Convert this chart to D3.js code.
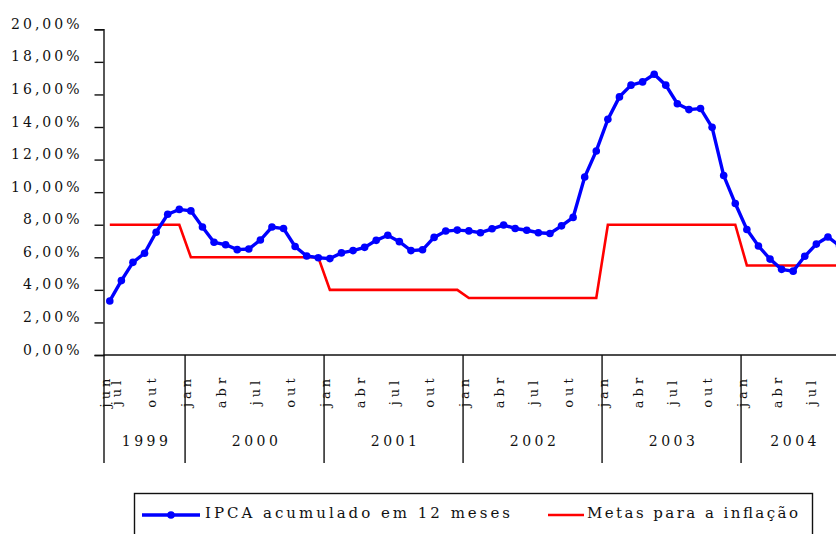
<!DOCTYPE html>
<html>
<head>
<meta charset="utf-8">
<script src="https://cdn.jsdelivr.net/npm/d3@7"></script>
<style>
  body { margin: 0; background: #fff; }
  svg { display: block; }
  text { font-family: 'DejaVu Serif', serif; fill: #111; }
</style>
</head>
<body>
<script>
// IPCA acumulado em 12 meses, jun/1999 a set/2004 (%)
var ipca = [
  3.32, 4.57, 5.69, 6.25, 7.54, 8.64, 8.94,
  8.85, 7.86, 6.92, 6.77, 6.47, 6.51, 7.06, 7.86, 7.77, 6.66, 6.08, 5.97,
  5.92, 6.27, 6.41, 6.61, 7.04, 7.35, 6.96, 6.41, 6.46, 7.22, 7.61, 7.67,
  7.62, 7.51, 7.75, 7.98, 7.77, 7.66, 7.51, 7.46, 7.93, 8.45, 10.93, 12.53,
  14.47, 15.85, 16.57, 16.77, 17.24, 16.57, 15.43, 15.07, 15.14, 13.98, 11.02, 9.30,
  7.71, 6.69, 5.89, 5.26, 5.15, 6.06, 6.81, 7.25, 6.71
];

// metas para a inflação (%)
var metas = [
  8, 8, 8, 8, 8, 8, 8,
  6, 6, 6, 6, 6, 6, 6, 6, 6, 6, 6, 6,
  4, 4, 4, 4, 4, 4, 4, 4, 4, 4, 4, 4,
  3.5, 3.5, 3.5, 3.5, 3.5, 3.5, 3.5, 3.5, 3.5, 3.5, 3.5, 3.5,
  8, 8, 8, 8, 8, 8, 8, 8, 8, 8, 8, 8,
  5.5, 5.5, 5.5, 5.5, 5.5, 5.5, 5.5, 5.5, 5.5
];

var monthNames = ['jan', 'fev', 'mar', 'abr', 'mai', 'jun', 'jul', 'ago', 'set', 'out', 'nov', 'dez'];
var shownMonths = ['jan', 'abr', 'jul', 'out'];
var firstYear = 1999;
var firstMonth = 5; // jun
var yTicks = [0, 2, 4, 6, 8, 10, 12, 14, 16, 18, 20];
var seriesNames = ['IPCA acumulado em 12 meses', 'Metas para a inflação'];

var categories = ipca.map(function(v, i) {
  var n = firstMonth + i;
  return { key: i, month: monthNames[n % 12], year: firstYear + Math.floor(n / 12) };
});

var W = 836, H = 534;
var plotLeft = 104, step = 11.583;
var plotTop = 29.3, plotBottom = 355;

var svg = d3.select('body')
  .append('svg')
  .attr('width', W)
  .attr('height', H);

var x = d3.scaleBand()
  .domain(categories.map(function(d) { return d.key; }))
  .range([plotLeft, plotLeft + categories.length * step]);

var y = d3.scaleLinear()
  .domain([0, 20])
  .range([plotBottom, plotTop]);

var cx = function(i) { return x(i) + x.bandwidth() / 2; };

// y axis
var pct = d3.formatLocale({ decimal: ',', thousands: '.', grouping: [3], currency: ['R$', ''] }).format('.2f');
var yAxis = svg.append('g')
  .attr('transform', 'translate(103.5,0)')
  .call(d3.axisLeft(y).tickValues(yTicks).tickSize(9).tickPadding(12)
    .tickFormat(function(d) { return pct(d) + '%'; }));
yAxis.select('.domain').attr('stroke', '#111').attr('stroke-width', 1.4);
yAxis.selectAll('.tick line').attr('stroke', '#111').attr('stroke-width', 1.4);
yAxis.selectAll('.tick text')
  .attr('font-family', 'DejaVu Serif')
  .attr('font-size', 14)
  .attr('letter-spacing', 3)
  .attr('fill', '#111')
  .attr('dy', '-1px');

// x axis: baseline
svg.append('line')
  .attr('x1', 103.5).attr('x2', x.range()[1])
  .attr('y1', plotBottom).attr('y2', plotBottom)
  .attr('stroke', '#111').attr('stroke-width', 1.4);

// year separators
var byYear = d3.groups(categories, function(d) { return d.year; });
var bounds = byYear.map(function(g) { return x(g[1][0].key); });
bounds.push(x.range()[1]);
svg.selectAll('.sep')
  .data(bounds)
  .enter().append('line')
  .attr('x1', function(d) { return d; })
  .attr('x2', function(d) { return d; })
  .attr('y1', plotBottom).attr('y2', 463)
  .attr('stroke', '#111').attr('stroke-width', 1.4);

// month labels
svg.selectAll('.month')
  .data(categories.filter(function(d, i) { return i === 0 || shownMonths.indexOf(d.month) >= 0; }))
  .enter().append('text')
  .attr('transform', function(d) { return 'translate(' + cx(d.key) + ',391) rotate(-90)'; })
  .attr('text-anchor', 'middle')
  .attr('font-size', 13)
  .attr('letter-spacing', 4)
  .text(function(d) { return d.month; });

// year labels
svg.selectAll('.year')
  .data(byYear)
  .enter().append('text')
  .attr('x', function(g) {
    var a = x(g[1][0].key), b = x(g[1][g[1].length - 1].key) + x.bandwidth();
    return (a + b) / 2 + 2;
  })
  .attr('y', 446)
  .attr('text-anchor', 'middle')
  .attr('font-size', 14)
  .attr('letter-spacing', 3.5)
  .text(function(g) { return g[0]; });

// series
var line = d3.line()
  .x(function(d, i) { return cx(i); })
  .y(function(d) { return y(d); });

svg.append('path')
  .attr('d', line(metas))
  .attr('fill', 'none')
  .attr('stroke', '#ff0000')
  .attr('stroke-width', 2.6);

svg.append('path')
  .attr('d', line(ipca))
  .attr('fill', 'none')
  .attr('stroke', '#0000ff')
  .attr('stroke-width', 3.4);

svg.selectAll('.pt')
  .data(ipca)
  .enter().append('circle')
  .attr('cx', function(d, i) { return cx(i); })
  .attr('cy', function(d) { return y(d); })
  .attr('r', 3.8)
  .attr('fill', '#0000ff');

// legend
var lg = svg.append('g');
lg.append('rect')
  .attr('x', 134.5).attr('y', 493.5)
  .attr('width', 678).attr('height', 60)
  .attr('fill', 'none')
  .attr('stroke', '#111').attr('stroke-width', 1.4);

lg.append('line')
  .attr('x1', 142).attr('x2', 200).attr('y1', 515).attr('y2', 515)
  .attr('stroke', '#0000ff').attr('stroke-width', 3.4);
lg.append('circle')
  .attr('cx', 171).attr('cy', 515).attr('r', 3.8)
  .attr('fill', '#0000ff');
lg.append('text')
  .attr('x', 205).attr('y', 518)
  .attr('font-size', 15)
  .attr('textLength', 305).attr('lengthAdjust', 'spacing')
  .text(seriesNames[0]);

lg.append('line')
  .attr('x1', 548).attr('x2', 584).attr('y1', 515).attr('y2', 515)
  .attr('stroke', '#ff0000').attr('stroke-width', 2.6);
lg.append('text')
  .attr('x', 587).attr('y', 518)
  .attr('font-size', 15)
  .attr('textLength', 211).attr('lengthAdjust', 'spacing')
  .text(seriesNames[1]);
</script>
</body>
</html>
